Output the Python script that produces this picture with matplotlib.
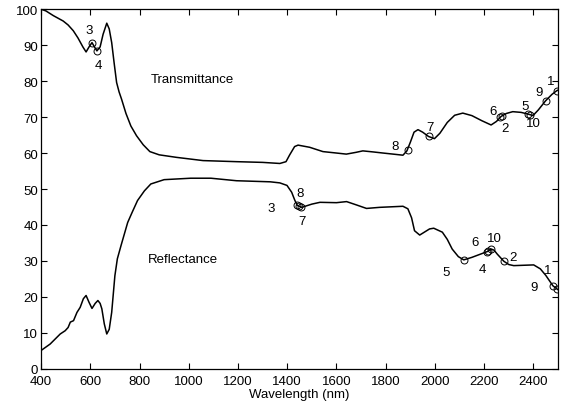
import numpy as np
import matplotlib
matplotlib.use("Agg")
from matplotlib import pyplot as plt

# transmittance curve (nm, %)
trans_nm = [400, 420, 450, 490, 510, 531, 550, 570, 583, 595, 607, 617, 627, 640, 652, 667,
            677, 687, 697, 707, 717, 727, 745, 765, 788, 815, 842, 880, 950, 1058, 1194,
            1300, 1370, 1395, 1410, 1430, 1444, 1491, 1545, 1600, 1640, 1680, 1707, 1750,
            1789, 1830, 1870, 1886, 1900, 1915, 1931, 1950, 1974, 1998, 2020, 2050, 2080,
            2113, 2150, 2190, 2228, 2250, 2269, 2290, 2316, 2350, 2380, 2398, 2420, 2449,
            2475, 2494, 2500]
trans_val = [100, 99.5, 98.2, 96.7, 95.6, 94.0, 92.0, 89.5, 88.1, 89.5, 90.7, 89.5, 88.4, 89.5,
             93.0, 96.1, 94.5, 90.7, 85.0, 79.6, 77.0, 75.0, 71.0, 67.5, 64.8, 62.3, 60.4,
             59.5, 58.8, 57.9, 57.6, 57.4, 57.1, 57.6, 59.5, 61.8, 62.2, 61.6, 60.4, 60.0,
             59.7, 60.2, 60.6, 60.3, 60.0, 59.7, 59.4, 60.6, 63.0, 65.8, 66.5, 65.8, 64.6,
             64.0, 65.5, 68.5, 70.5, 71.1, 70.4, 69.0, 67.8, 68.8, 70.2, 71.0, 71.5, 71.3,
             70.8, 70.4, 72.0, 74.5, 76.3, 77.3, 77.5]

# reflectance curve
refl_nm = [400, 437, 478, 498, 510, 519, 532, 546, 559, 572, 583, 595, 607, 620, 631, 640,
           647, 657, 667, 677, 687, 700, 710, 725, 752, 770, 792, 820, 846, 900, 1008, 1090,
           1194, 1331, 1370, 1399, 1418, 1430, 1440, 1459, 1500, 1533, 1600, 1641, 1680,
           1722, 1775, 1870, 1890, 1905, 1917, 1938, 1978, 1995, 2030, 2050, 2070, 2095,
           2117, 2150, 2185, 2212, 2229, 2240, 2253, 2280, 2300, 2320, 2360, 2401, 2428,
           2450, 2479, 2496, 2500]
refl_val = [5.1, 6.9, 9.7, 10.6, 11.5, 13.0, 13.4, 15.7, 17.1, 19.5, 20.4, 18.5, 16.8, 18.2,
            19.0, 18.2, 16.7, 12.5, 9.7, 11.0, 15.7, 25.9, 30.6, 34.3, 40.7, 43.5, 46.8, 49.5,
            51.4, 52.6, 53.0, 53.0, 52.3, 52.0, 51.7, 51.0, 49.1, 47.0, 45.5, 44.9, 45.8,
            46.3, 46.2, 46.5, 45.6, 44.6, 44.9, 45.2, 44.5, 42.0, 38.4, 37.2, 38.9, 39.1,
            38.0, 36.0, 33.3, 31.2, 30.3, 31.0, 31.9, 32.6, 33.3, 33.0, 31.9, 29.9, 29.0,
            28.7, 28.8, 28.9, 27.8, 26.0, 23.1, 22.2, 22.0]

# numbered circles on each curve
t_ids = ["3", "4", "8", "7", "6", "2", "5", "10", "9", "1"]
t_mark_nm = [607, 627, 1890, 1974, 2265, 2272, 2378, 2385, 2449, 2494]
t_mark_val = [90.7, 88.4, 60.9, 64.6, 70.0, 70.3, 70.8, 70.7, 74.5, 77.3]
t_lab_nm = [595, 632, 1839, 1978, 2235, 2285, 2366, 2400, 2421, 2471]
t_lab_val = [94.3, 84.4, 61.9, 67.3, 71.6, 67.0, 73.1, 68.4, 77.0, 80.1]

r_ids = ["3", "8", "7", "5", "4", "6", "10", "2", "1", "9"]
r_mark_nm = [1440, 1446, 1455, 2117, 2210, 2216, 2229, 2280, 2480, 2495]
r_mark_val = [45.5, 45.4, 45.1, 30.3, 32.6, 32.9, 33.3, 29.9, 23.0, 22.3]
r_lab_nm = [1336, 1451, 1458, 2046, 2194, 2163, 2242, 2316, 2458, 2404]
r_lab_val = [44.6, 48.9, 41.0, 27.0, 27.9, 35.2, 36.4, 31.0, 27.6, 22.7]

plt.rcParams['font.family'] = ['Liberation Sans', 'DejaVu Sans']
plt.rcParams['font.size'] = 9.5

fig = plt.figure(figsize=(5.62, 4.06), dpi=100)
ax = fig.add_axes([0.073, 0.089, 0.920, 0.886])

ax.plot(trans_nm, trans_val, color="black", lw=1.1)
ax.plot(refl_nm, refl_val, color="black", lw=1.1)
ax.plot(t_mark_nm, t_mark_val, 'o', ms=5, mfc='none', mec='black', mew=0.7)
ax.plot(r_mark_nm, r_mark_val, 'o', ms=5, mfc='none', mec='black', mew=0.7)

for s, x, y in zip(t_ids, t_lab_nm, t_lab_val):
    ax.text(x, y, s, ha='center', va='center')
for s, x, y in zip(r_ids, r_lab_nm, r_lab_val):
    ax.text(x, y, s, ha='center', va='center')

ax.text(1013, 80.6, "Transmittance", ha='center', va='center')
ax.text(976, 30.6, "Reflectance", ha='center', va='center')

ax.set_xlim(400, 2500)
ax.set_ylim(0, 100)
ax.set_xticks(np.arange(400, 2401, 200))
ax.set_yticks(np.arange(0, 101, 10))
ax.tick_params(direction='in', top=True, right=True, length=4, width=0.8, pad=2)
ax.tick_params(axis='x', pad=4.5)
ax.set_xlabel("Wavelength (nm)", labelpad=0.5)
for sp in ax.spines.values():
    sp.set_linewidth(0.9)

plt.savefig("out.png", dpi=100)
